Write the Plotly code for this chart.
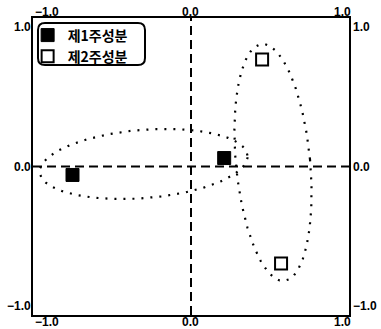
import numpy as np
import plotly.graph_objects as go

# Component loadings
pc1_x = [-0.75, 0.21]
pc1_y = [-0.057, 0.057]
pc2_x = [0.45, 0.57]
pc2_y = [0.72, -0.653]
series_names = ["제1주성분", "제2주성분"]

# Grouping ellipses: centre x, centre y, semi-axis x, semi-axis y, tilt (deg)
ell_cx = [-0.30, 0.519]
ell_cy = [0.017, 0.027]
ell_ax = [0.66, 0.235]
ell_ay = [0.23, 0.80]
ell_tilt = [5.0, 5.0]

# Axis ticks
tick_vals = [-1.0, 0.0, 1.0]
tick_text = ["\u22121.0", "0.0", "1.0"]

W, H = 381, 329
ML, MR, MT, MB = 33, 32, 18, 14
PW, PH = W - ML - MR, H - MT - MB

num_font = dict(family="Liberation Sans, Arial, sans-serif", size=12, color="black",
                weight="bold")
kr_font = dict(family="Noto Sans CJK KR, sans-serif", size=14, color="black",
               weight="bold")

fig = go.Figure()

# dotted grouping ellipses
t = np.linspace(0, 2 * np.pi, 361)
for cx, cy, ax, ay, tilt in zip(ell_cx, ell_cy, ell_ax, ell_ay, ell_tilt):
    th = np.deg2rad(tilt)
    ex = ax * np.cos(t)
    ey = ay * np.sin(t)
    xs = cx + ex * np.cos(th) - ey * np.sin(th)
    ys = cy + ex * np.sin(th) + ey * np.cos(th)
    fig.add_trace(go.Scatter(
        x=xs, y=ys, mode="lines", showlegend=False, hoverinfo="skip",
        line=dict(color="black", width=2.2, dash="2px,7px"),
    ))

fig.add_trace(go.Scatter(
    x=pc1_x, y=pc1_y, mode="markers", name=series_names[0],
    marker=dict(symbol="square", size=13, color="black",
                line=dict(color="black", width=1)),
))
fig.add_trace(go.Scatter(
    x=pc2_x, y=pc2_y, mode="markers", name=series_names[1],
    marker=dict(symbol="square", size=12, color="white",
                line=dict(color="black", width=2)),
))

# dashed zero lines
fig.add_shape(type="line", xref="x", yref="paper", x0=0, x1=0, y0=0, y1=1,
              line=dict(color="black", width=2, dash="9px,5px"), layer="below")
fig.add_shape(type="line", xref="paper", yref="y", x0=0, x1=1, y0=0, y1=0,
              line=dict(color="black", width=2, dash="9px,5px"), layer="below")


# rounded legend frame (pixel box converted to paper coordinates)
def px_to_paper(px, py):
    return (px - ML) / PW, 1 - (py - MT) / PH


bx0, by0, bx1, by1, r = 38, 23, 145, 65, 7
pts = {
    "a": px_to_paper(bx0 + r, by0), "b": px_to_paper(bx1 - r, by0),
    "c": px_to_paper(bx1, by0), "d": px_to_paper(bx1, by0 + r),
    "e": px_to_paper(bx1, by1 - r), "f": px_to_paper(bx1, by1),
    "g": px_to_paper(bx1 - r, by1), "h": px_to_paper(bx0 + r, by1),
    "i": px_to_paper(bx0, by1), "j": px_to_paper(bx0, by1 - r),
    "k": px_to_paper(bx0, by0 + r), "l": px_to_paper(bx0, by0),
}
P = lambda k: f"{pts[k][0]:.5f},{pts[k][1]:.5f}"
path = (f"M {P('a')} L {P('b')} Q {P('c')} {P('d')} L {P('e')} Q {P('f')} {P('g')} "
        f"L {P('h')} Q {P('i')} {P('j')} L {P('k')} Q {P('l')} {P('a')} Z")
fig.add_shape(type="path", xref="paper", yref="paper", path=path,
              line=dict(color="black", width=2), fillcolor="white", layer="below")

# tick labels on all four sides
anchors_x = ["left", "center", "right"]
shift_x = [0, -1, 4]
for v, s, xa, sx in zip(tick_vals, tick_text, anchors_x, shift_x):
    fig.add_annotation(x=v, xref="x", y=1, yref="paper", text=s, showarrow=False,
                       xanchor=xa, yanchor="bottom", xshift=sx, yshift=-3, font=num_font)
    fig.add_annotation(x=v, xref="x", y=0, yref="paper", text=s, showarrow=False,
                       xanchor=xa, yanchor="top", xshift=sx, yshift=2, font=num_font)
anchors_y = ["bottom", "middle", "top"]
for v, s, ya in zip(tick_vals, tick_text, anchors_y):
    fig.add_annotation(x=0, xref="paper", y=v, yref="y", text=s, showarrow=False,
                       xanchor="right", yanchor=ya, xshift=0, font=num_font)
    fig.add_annotation(x=1, xref="paper", y=v, yref="y", text=s, showarrow=False,
                       xanchor="left", yanchor=ya, xshift=2, font=num_font)

axis_common = dict(range=[-1, 1], showgrid=False, zeroline=False, showticklabels=False,
                   ticks="", showline=True, linecolor="black", linewidth=2, mirror=True,
                   fixedrange=True)
fig.update_layout(
    width=W, height=H,
    margin=dict(l=ML, r=MR, t=MT, b=MB, pad=0),
    paper_bgcolor="white", plot_bgcolor="white",
    xaxis=axis_common, yaxis=axis_common,
    showlegend=True,
    legend=dict(x=-0.017, y=0.995, xanchor="left", yanchor="top",
                bgcolor="rgba(0,0,0,0)", borderwidth=0, font=kr_font,
                tracegroupgap=0, itemwidth=30),
)

fig.write_html("out.html")
